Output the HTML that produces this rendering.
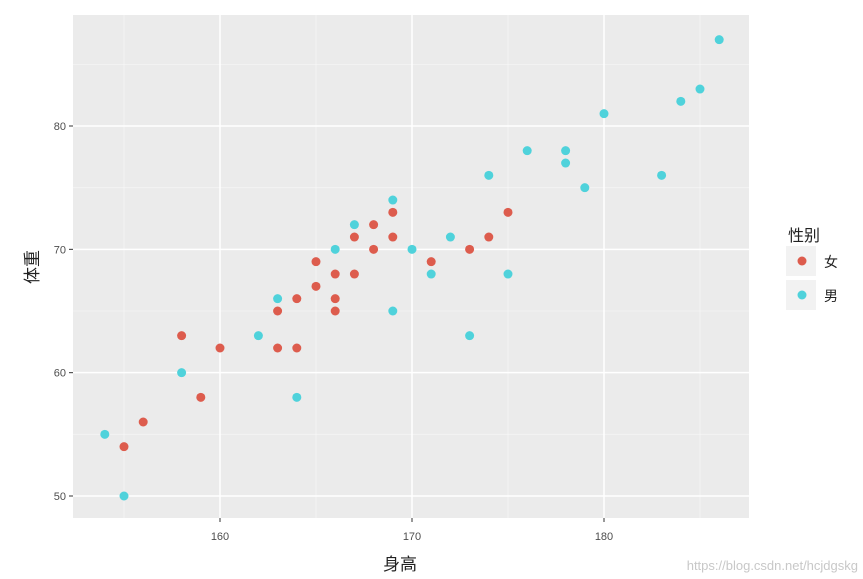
<!DOCTYPE html>
<html><head><meta charset="utf-8"><style>
html,body{margin:0;padding:0;background:#fff;width:863px;height:579px;overflow:hidden}
text{font-family:"Liberation Sans","Noto Sans CJK SC",sans-serif}
</style></head><body>
<svg width="863" height="579" xmlns="http://www.w3.org/2000/svg">
<rect x="73" y="15" width="676" height="503" fill="#ebebeb"/>
<g id="grid"></g>
<g id="pts"></g>
<g id="ax" fill="#4d4d4d" font-size="11"></g>
<text x="400" y="570" font-size="17" text-anchor="middle" fill="#222">身高</text>
<text transform="translate(38,267) rotate(-90)" font-size="17" text-anchor="middle" fill="#222">体重</text>
<text x="788" y="241" font-size="16" fill="#222">性别</text>
<rect x="786" y="246" width="30" height="30" fill="#f2f2f2"/>
<rect x="786" y="280" width="30" height="30" fill="#f2f2f2"/>
<circle cx="802" cy="261" r="4.5" fill="#dd5c4d"/>
<circle cx="802" cy="295" r="4.5" fill="#4fd2db"/>
<text x="824" y="267" font-size="14" fill="#222">女</text>
<text x="824" y="301" font-size="14" fill="#222">男</text>
<text x="858" y="570" font-size="13" text-anchor="end" fill="#c8c8c8">https://blog.csdn.net/hcjdgskg</text>
</svg>
<script>
const X=h=>220+(h-160)*19.2, Y=w=>496-(w-50)*12.333;
let g='',a='';
for(const h of [155,165,175,185]) g+=`<line x1="${X(h)}" x2="${X(h)}" y1="15" y2="518" stroke="#f5f5f5" stroke-width="0.8"/>`;
for(const w of [55,65,75,85]) g+=`<line y1="${Y(w)}" y2="${Y(w)}" x1="73" x2="749" stroke="#f5f5f5" stroke-width="0.8"/>`;
for(const h of [160,170,180]){g+=`<line x1="${X(h)}" x2="${X(h)}" y1="15" y2="518" stroke="#fff" stroke-width="1.5"/>`;
 a+=`<line x1="${X(h)}" x2="${X(h)}" y1="518" y2="522" stroke="#333"/><text x="${X(h)}" y="540" text-anchor="middle">${h}</text>`;}
for(const w of [50,60,70,80]){g+=`<line y1="${Y(w)}" y2="${Y(w)}" x1="73" x2="749" stroke="#fff" stroke-width="1.5"/>`;
 a+=`<line y1="${Y(w)}" y2="${Y(w)}" x1="69" x2="73" stroke="#333"/><text x="66" y="${Y(w)+4}" text-anchor="end">${w}</text>`;}
document.getElementById('grid').innerHTML=g;document.getElementById('ax').innerHTML=a;
const F=[[155,54],[156,56],[158,63],[159,58],[160,62],[163,65],[163,62],[164,66],[164,62],[165,69],[165,67],[166,68],[166,66],[166,65],[167,71],[167,68],[168,72],[168,70],[169,73],[169,71],[171,69],[173,70],[174,71],[175,73]];
const M=[[154,55],[155,50],[158,60],[162,63],[163,66],[164,58],[166,70],[167,72],[169,74],[169,65],[170,70],[171,68],[172,71],[173,63],[174,76],[175,68],[176,78],[178,78],[178,77],[179,75],[180,81],[183,76],[184,82],[185,83],[186,87]];
let p='';
for(const[h,w]of F)p+=`<circle cx="${X(h)}" cy="${Y(w)}" r="4.5" fill="#dd5c4d"/>`;
for(const[h,w]of M)p+=`<circle cx="${X(h)}" cy="${Y(w)}" r="4.5" fill="#4fd2db"/>`;
document.getElementById('pts').innerHTML=p;
</script>
</body></html>
